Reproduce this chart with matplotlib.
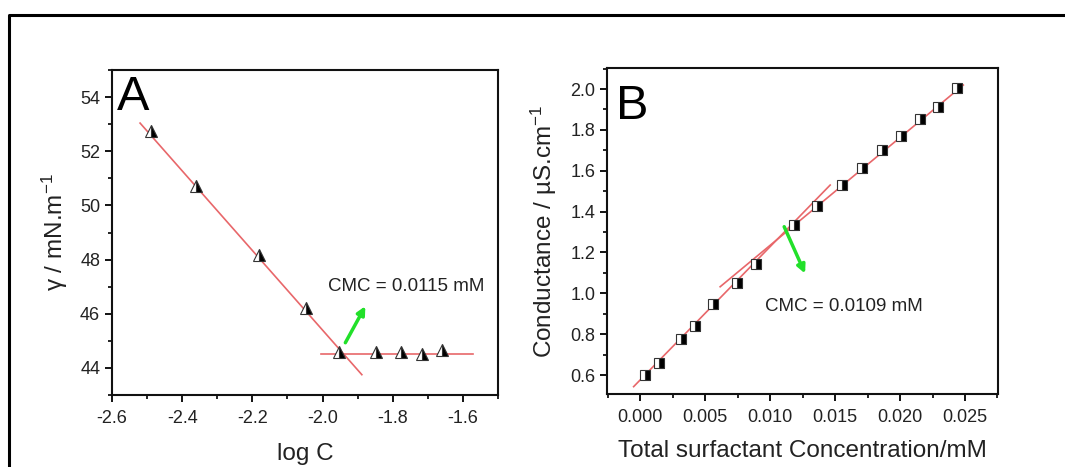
#!/usr/bin/env python3
"""Surface tension (A) and conductance (B) vs surfactant concentration, CMC determination."""

import matplotlib
matplotlib.use("Agg")
import numpy as np
import matplotlib.pyplot as plt
from matplotlib.lines import Line2D
from matplotlib.ticker import MultipleLocator

# Panel A: surface tension vs log C
log_c = [-2.49, -2.36, -2.18, -2.047, -1.954, -1.848, -1.777, -1.717, -1.66]
gamma = [52.76, 50.70, 48.18, 46.21, 44.58, 44.60, 44.60, 44.53, 44.65]
fit_a1_x = [-2.52, -1.888]
fit_a1_y = [53.04, 43.75]
fit_a2_x = [-2.004, -1.571]
fit_a2_y = [44.50, 44.50]
arrow_a = [(-1.935, 44.93), (-1.878, 46.28)]
cmc_a_text = "CMC = 0.0115 mM"
cmc_a_pos = (-1.985, 47.0)

# Panel B: conductance vs total surfactant concentration
conc = [0.00039, 0.00141, 0.00313, 0.00418, 0.0056, 0.00745, 0.00892, 0.0118,
        0.0136, 0.01552, 0.0171, 0.0186, 0.0201, 0.0215, 0.0229, 0.0244]
cond = [0.600, 0.660, 0.775, 0.841, 0.947, 1.052, 1.142, 1.334,
        1.429, 1.530, 1.612, 1.700, 1.770, 1.852, 1.910, 2.003]
fit_b1_x = [-0.00051, 0.01462]
fit_b1_y = [0.543, 1.530]
fit_b2_x = [0.00615, 0.02487]
fit_b2_y = [1.032, 2.0196]
arrow_b = [(0.01108, 1.326), (0.01269, 1.097)]
cmc_b_text = "CMC = 0.0109 mM"
cmc_b_pos = (0.00962, 0.934)

FONT = ["Liberation Sans", "DejaVu Sans"]
plt.rcParams["font.family"] = FONT
plt.rcParams["mathtext.fontset"] = "custom"
plt.rcParams["mathtext.rm"] = "Liberation Sans"
plt.rcParams["mathtext.it"] = "Liberation Sans:italic"
plt.rcParams["mathtext.default"] = "regular"

TXT = "#222222"
RED = "#e8676a"
GREEN = "#22e02a"

W, H = 1065, 467
fig = plt.figure(figsize=(W / 100, H / 100), dpi=100)


def box(l, t, r, b):
    return [l / W, 1 - b / H, (r - l) / W, (b - t) / H]


ax_a = fig.add_axes(box(112, 70, 498, 395))
ax_b = fig.add_axes(box(607, 68, 998, 394))


def style(ax):
    for s in ax.spines.values():
        s.set_linewidth(1.5)
        s.set_color("#111111")
    ax.tick_params(which="major", direction="out", length=5, width=1.3,
                   labelsize=13, labelcolor=TXT, top=False, right=False)
    ax.tick_params(axis="x", which="major", pad=6)
    ax.tick_params(which="minor", direction="out", length=3, width=1.2,
                   top=False, right=False)


# Panel A
ax_a.plot(fit_a1_x, fit_a1_y, color=RED, lw=1.2, zorder=2)
ax_a.plot(fit_a2_x, fit_a2_y, color=RED, lw=1.2, zorder=2)
ax_a.plot(log_c, gamma, ls="none", marker="^", ms=8.5, fillstyle="right",
          markerfacecolor="black", markerfacecoloralt="white",
          markeredgecolor="#333333", markeredgewidth=0.8, zorder=3)
ax_a.annotate("", xy=arrow_a[1], xytext=arrow_a[0],
              arrowprops=dict(arrowstyle="-|>", color=GREEN, lw=2.5,
                              mutation_scale=12, shrinkA=0, shrinkB=0))
ax_a.text(cmc_a_pos[0], cmc_a_pos[1], cmc_a_text, fontsize=13.5, color=TXT,
          ha="left", va="center")
ax_a.text(0.012, 0.985, "A", transform=ax_a.transAxes, fontsize=35,
          ha="left", va="top", color="black")
ax_a.set_xlim(-2.6, -1.5)
ax_a.set_ylim(43, 55)
ax_a.xaxis.set_major_locator(MultipleLocator(0.2))
ax_a.xaxis.set_minor_locator(MultipleLocator(0.1))
ax_a.yaxis.set_major_locator(MultipleLocator(2))
ax_a.yaxis.set_minor_locator(MultipleLocator(1))
ax_a.set_xticks([-2.6, -2.4, -2.2, -2.0, -1.8, -1.6])
ax_a.set_xticklabels(["-2.6", "-2.4", "-2.2", "-2.0", "-1.8", "-1.6"])
ax_a.set_ylabel("γ / mN.m$^{-1}$", fontsize=17.5, color=TXT, labelpad=7)
ax_a.set_xlabel("log C", fontsize=17.5, color=TXT, labelpad=11)
style(ax_a)

# Panel B
ax_b.plot(fit_b1_x, fit_b1_y, color=RED, lw=1.2, zorder=2)
ax_b.plot(fit_b2_x, fit_b2_y, color=RED, lw=1.2, zorder=2)
ax_b.plot(conc, cond, ls="none", marker="s", ms=7, fillstyle="right",
          markerfacecolor="black", markerfacecoloralt="white",
          markeredgecolor="#333333", markeredgewidth=0.8, zorder=3)
ax_b.annotate("", xy=arrow_b[1], xytext=arrow_b[0],
              arrowprops=dict(arrowstyle="-|>", color=GREEN, lw=2.5,
                              mutation_scale=12, shrinkA=0, shrinkB=0))
ax_b.text(cmc_b_pos[0], cmc_b_pos[1], cmc_b_text, fontsize=13.5, color=TXT,
          ha="left", va="center")
ax_b.text(0.022, 0.95, "B", transform=ax_b.transAxes, fontsize=35,
          ha="left", va="top", color="black")
ax_b.set_xlim(-0.00256, 0.02754)
ax_b.set_ylim(0.507, 2.103)
ax_b.xaxis.set_major_locator(MultipleLocator(0.005))
ax_b.xaxis.set_minor_locator(MultipleLocator(0.0025))
ax_b.yaxis.set_major_locator(MultipleLocator(0.2))
ax_b.yaxis.set_minor_locator(MultipleLocator(0.1))
ax_b.xaxis.set_major_formatter(plt.FormatStrFormatter("%.3f"))
ax_b.yaxis.set_major_formatter(plt.FormatStrFormatter("%.1f"))
ax_b.set_ylabel("Conductance / µS.cm$^{-1}$", fontsize=17.5, color=TXT, labelpad=8)
ax_b.set_xlabel("Total surfactant Concentration/mM", fontsize=17.5, color=TXT,
                labelpad=10)
style(ax_b)

# outer frame (left and top edges visible)
fx = 9 / W
fy = 1 - 15 / H
fig.add_artist(Line2D([fx, fx, 1.0], [0.0, fy, fy], transform=fig.transFigure,
                      color="black", lw=2.2))

plt.savefig("out.png", dpi=100)
